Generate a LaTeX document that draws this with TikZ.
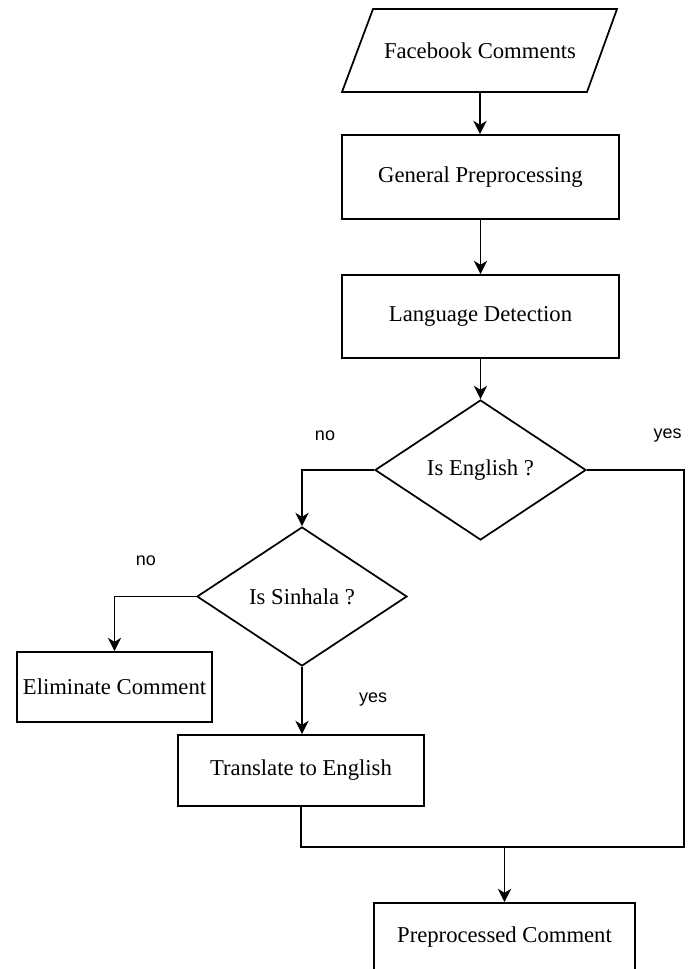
\documentclass[tikz,border=0pt]{standalone}
\usepackage{fontspec}
\setmainfont{Liberation Serif}
\setsansfont{Liberation Sans}
\usetikzlibrary{shapes.geometric,arrows.meta}

\tikzset{every picture/.style={line width=1.3pt}}
\tikzset{
  procbox/.style={draw, rectangle, inner sep=0.75pt, font=\fontsize{17}{20}\selectfont},
  iotext/.style={rectangle, inner sep=0.75pt, font=\fontsize{17}{20}\selectfont},
  decide/.style={draw, diamond, inner sep=0pt, font=\fontsize{17}{20}\selectfont},
  answer/.style={inner sep=0.75pt, font=\sffamily\fontsize{13.5}{16}\selectfont},
  flow/.style={-{Stealth[length=10pt,width=10pt,inset=3pt]}}
}

\begin{document}
\begin{tikzpicture}[x=0.75pt,y=0.75pt,yscale=-1,xscale=1]
\useasboundingbox (0,0) rectangle (689,969);
\clip (0,0) rectangle (689,969);

% Shape: Parallelogram
\draw (373,9) -- (617,9) -- (587,92) -- (342,92) -- cycle ;
% Text Node
\node [iotext, minimum width=183pt, minimum height=62.25pt] (fb) at (480,50.5) {Facebook Comments};
% Shape: Rectangle
\node [procbox, minimum width=207.75pt, minimum height=63pt] (gen) at (480.5,177) {General Preprocessing};
% Shape: Rectangle
\node [procbox, minimum width=207.75pt, minimum height=62.25pt] (lang) at (480.5,316.5) {Language Detection};
% Shape: Diamond
\node [decide, minimum width=158.25pt, minimum height=105pt] (eng) at (480.5,470) {Is English ?};
% Shape: Diamond
\node [decide, minimum width=157.5pt, minimum height=104.25pt] (sin) at (302,596.5) {Is Sinhala ?};
% Shape: Rectangle
\node [procbox, minimum width=146.25pt, minimum height=52.5pt] (elim) at (114.5,687) {Eliminate Comment};
% Shape: Rectangle
\node [procbox, minimum width=184.5pt, minimum height=53.25pt] (trans) at (301,770.5) {Translate to English};
% Shape: Rectangle
\node [procbox, minimum width=195.75pt, minimum height=54pt] (pre) at (504.5,939) {};
% Text Node
\node [inner sep=0.75pt, font=\fontsize{17}{20}\selectfont] (pretxt) at (504.5,937) {Preprocessed Comment};

% Text Node
\node [answer] (engno) at (325,436) {no};
% Text Node
\node [answer] (engyes) at (667.5,436) {yes};
% Text Node
\node [answer] (sinno) at (146,561) {no};
% Text Node
\node [answer] (sinyes) at (373,700) {yes};

% Bends
\coordinate (rc) at (684,847);
\coordinate (join) at (504.5,847);

% Connection
\draw [flow] (fb) -- (fb |- gen.north);
% Connection
\draw [flow] (gen) -- (lang);
% Connection
\draw [flow] (lang) -- (eng);
% Connection
\draw [flow] (eng.west) -| (sin.north);
% Connection
\draw [flow] (sin.west) -| (elim.north);
% Connection
\draw [flow] (sin.south) -- (sin.south |- trans.north);
% Connection
\draw (eng.east) -| (rc) -- (join);
% Connection
\draw (trans.south) |- (join);
% Connection
\draw [flow] (join) -- (pre.north);

\end{tikzpicture}
\end{document}
